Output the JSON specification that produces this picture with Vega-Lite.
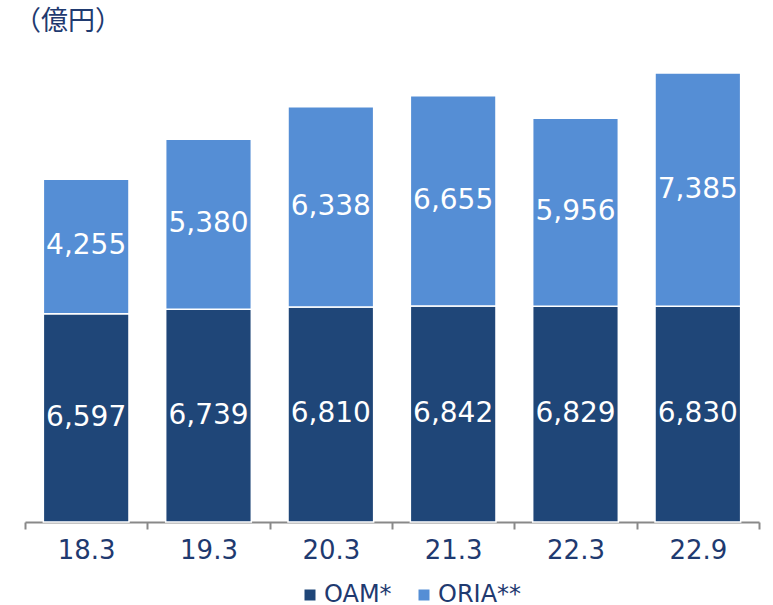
{
  "$schema": "https://vega.github.io/schema/vega-lite/v6.json",
  "autosize": "none",
  "width": 734,
  "height": 458,
  "padding": {"left": 25, "top": 64, "right": 14, "bottom": 83},
  "background": "white",
  "config": {"view": {"stroke": null}, "font": "DejaVu Sans"},
  "title": {
    "text": "（億円）",
    "anchor": "start",
    "frame": "group",
    "orient": "top",
    "offset": 28,
    "dx": -11,
    "fontSize": 27,
    "fontWeight": "normal",
    "color": "#1F3A70",
    "font": "Noto Sans CJK JP"
  },
  "data": {
    "values": [
      {"period": "18.3", "series": "OAM*", "order": 1, "value": 6597},
      {"period": "18.3", "series": "ORIA**", "order": 2, "value": 4255},
      {"period": "19.3", "series": "OAM*", "order": 1, "value": 6739},
      {"period": "19.3", "series": "ORIA**", "order": 2, "value": 5380},
      {"period": "20.3", "series": "OAM*", "order": 1, "value": 6810},
      {"period": "20.3", "series": "ORIA**", "order": 2, "value": 6338},
      {"period": "21.3", "series": "OAM*", "order": 1, "value": 6842},
      {"period": "21.3", "series": "ORIA**", "order": 2, "value": 6655},
      {"period": "22.3", "series": "OAM*", "order": 1, "value": 6829},
      {"period": "22.3", "series": "ORIA**", "order": 2, "value": 5956},
      {"period": "22.9", "series": "OAM*", "order": 1, "value": 6830},
      {"period": "22.9", "series": "ORIA**", "order": 2, "value": 7385}
    ]
  },
  "encoding": {
    "x": {
      "field": "period",
      "type": "nominal",
      "sort": null,
      "scale": {"paddingInner": 0, "paddingOuter": 0},
      "axis": {
        "title": null,
        "labelAngle": 0,
        "labelFontSize": 26,
        "labelColor": "#1F3A70",
        "labelPadding": 8,
        "domainColor": "#898989",
        "domainWidth": 2,
        "tickColor": "#898989",
        "tickWidth": 2,
        "tickSize": 7,
        "tickBand": "extent"
      }
    },
    "y": {
      "field": "value",
      "type": "quantitative",
      "aggregate": "sum",
      "stack": "zero",
      "scale": {"domain": [0, 14500], "nice": false},
      "axis": null
    },
    "order": {"field": "order", "type": "quantitative"}
  },
  "layer": [
    {
      "mark": {"type": "bar", "stroke": "white", "strokeWidth": 1.5, "width": {"band": 0.7}},
      "encoding": {
        "color": {
          "field": "series",
          "type": "nominal",
          "scale": {"domain": ["OAM*", "ORIA**"], "range": ["#1F4678", "#558ED5"]},
          "legend": {
            "title": null,
            "orient": "none",
            "legendX": 273,
            "legendY": 519,
            "direction": "horizontal",
            "symbolType": "square",
            "symbolSize": 121,
            "symbolStrokeWidth": 0,
            "labelFontSize": 24,
            "labelColor": "#1F3A70",
            "labelOffset": 2,
            "columnPadding": 20
          }
        }
      }
    },
    {
      "mark": {"type": "text", "color": "white", "fontSize": 28, "baseline": "middle"},
      "encoding": {
        "y": {
          "field": "value",
          "type": "quantitative",
          "aggregate": "sum",
          "stack": "zero",
          "bandPosition": 0.5
        },
        "text": {"field": "value", "type": "quantitative", "aggregate": "sum", "format": ","}
      }
    }
  ]
}
